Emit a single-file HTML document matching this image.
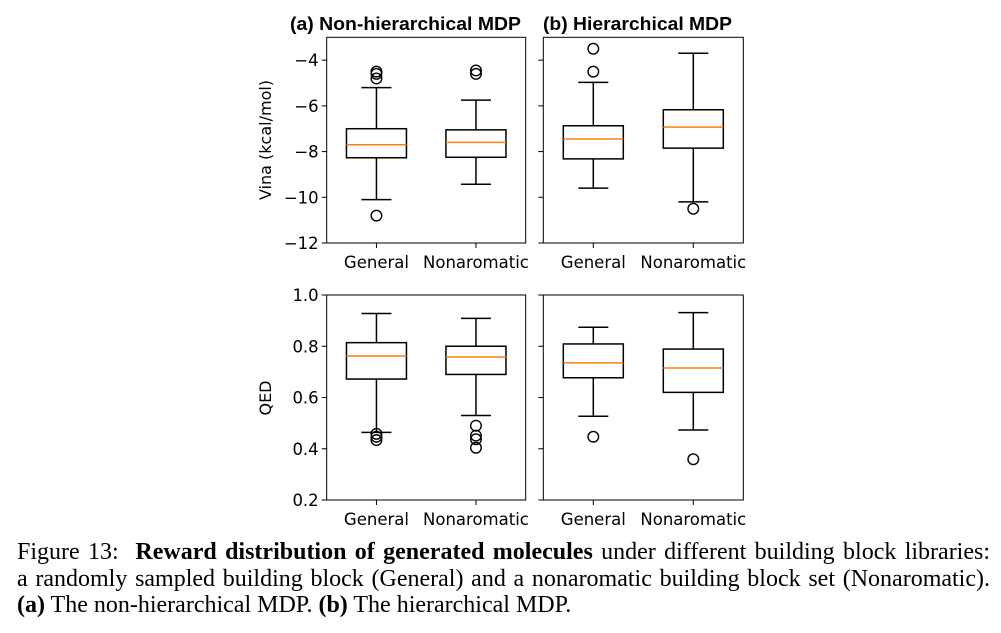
<!DOCTYPE html>
<html><head><meta charset="utf-8">
<style>
body{margin:0;background:#fff;width:1001px;height:633px;overflow:hidden;position:relative}
svg{position:absolute;left:0;top:0}
.cap{position:absolute;left:17px;width:973px;font-family:"Liberation Serif",serif;font-size:24px;line-height:27px;color:#000;white-space:nowrap}
.j{text-align:justify;text-align-last:justify}
</style></head><body>
<svg id="fig" width="1001" height="633" font-family="DejaVu Sans, sans-serif"></svg>
<div class="cap j" style="top:539px">Figure 13:&nbsp; <b>Reward distribution of generated molecules</b> under different building block libraries:</div>
<div class="cap j" style="top:566px">a randomly sampled building block (General) and a nonaromatic building block set (Nonaromatic).</div>
<div class="cap" style="top:592px"><b>(a)</b> The non-hierarchical MDP. <b>(b)</b> The hierarchical MDP.</div>
<script>
const categories = ["General","Nonaromatic"];
// [whiskerLow, Q1, median, Q3, whiskerHigh]
const vinaA = [[-10.1,-8.27,-7.7,-7.0,-5.2],[-9.43,-8.25,-7.6,-7.05,-5.75]];
const vinaAFliers = [[-4.5,-4.6,-4.8,-10.8],[-4.45,-4.6]];
const vinaB = [[-9.6,-8.32,-7.45,-6.87,-4.97],[-10.2,-7.85,-6.93,-6.17,-3.7]];
const vinaBFliers = [[-3.5,-4.5],[-10.5]];
const qedA = [[0.464,0.672,0.762,0.814,0.928],[0.530,0.690,0.758,0.800,0.909]];
const qedAFliers = [[0.458,0.447,0.434],[0.490,0.451,0.437,0.404]];
const qedB = [[0.527,0.677,0.735,0.809,0.874],[0.473,0.620,0.715,0.789,0.931]];
const qedBFliers = [[0.447],[0.359]];
const vinaTicks = [-4,-6,-8,-10,-12];
const qedTicks = [1.0,0.8,0.6,0.4,0.2];

const NS="http://www.w3.org/2000/svg";
const svg=document.getElementById('fig');
function mk(tag,attrs,parent,name){const e=document.createElementNS(NS,tag);for(const k in attrs)e.setAttribute(k,attrs[k]);


(parent||svg).appendChild(e);return e;}

function panel(x0,x1,y0,y1,vmin,vmax,stats,fliers,ticks,showLabels,fmt,pname){
  const g=mk('g',{},svg,pname);
  const ys=v=>y1-(v-vmin)/(vmax-vmin)*(y1-y0);
  const w=x1-x0;
  const xs=i=>x0+w*(0.25+0.5*i);
  const bw=60;
  ticks.forEach(t=>{
    const y=ys(t);
    mk('line',{x1:x0-5,x2:x0,y1:y,y2:y,stroke:'#000','stroke-width':1},g,'y-tick');
    if(showLabels){const tx=mk('text',{x:x0-8,y:y+6,'text-anchor':'end','font-size':16.5},g,'y-tick-label');tx.textContent=fmt(t);}
  });
  categories.forEach((c,i)=>{
    const x=xs(i);const s=stats[i];
    mk('line',{x1:x,x2:x,y1:y1,y2:y1+5,stroke:'#000','stroke-width':1},g,'x-tick');
    const tx=mk('text',{x:x,y:y1+25,'text-anchor':'middle','font-size':16.5},g,'x-tick-label');tx.textContent=c;
    mk('line',{x1:x,x2:x,y1:ys(s[0]),y2:ys(s[1]),stroke:'#000','stroke-width':1.5},g,'whisker-low');
    mk('line',{x1:x,x2:x,y1:ys(s[3]),y2:ys(s[4]),stroke:'#000','stroke-width':1.5},g,'whisker-high');
    mk('line',{x1:x-bw/4,x2:x+bw/4,y1:ys(s[0]),y2:ys(s[0]),stroke:'#000','stroke-width':1.5},g,'cap-low');
    mk('line',{x1:x-bw/4,x2:x+bw/4,y1:ys(s[4]),y2:ys(s[4]),stroke:'#000','stroke-width':1.5},g,'cap-high');
    mk('rect',{x:x-bw/2,y:ys(s[3]),width:bw,height:ys(s[1])-ys(s[3]),fill:'none',stroke:'#000','stroke-width':1.5},g,'box-'+c.toLowerCase());
    mk('line',{x1:x-bw/2,x2:x+bw/2,y1:ys(s[2]),y2:ys(s[2]),stroke:'#ff7f0e','stroke-width':1.5},g,'median-line');
    fliers[i].forEach(f=>mk('circle',{cx:x,cy:ys(f),r:5.3,fill:'none',stroke:'#000','stroke-width':1.4},g,'outlier'));
  });
  mk('rect',{x:x0,y:y0,width:w,height:y1-y0,fill:'none',stroke:'#000','stroke-width':1},g,'axes-frame');
}
const f0=t=>String(t).replace('-','\u2212');
const f1=t=>t.toFixed(1);
panel(326.7,525.7,37.3,243,-12,-3,vinaA,vinaAFliers,vinaTicks,true,f0,'vina-nonhier-panel');
panel(543.3,743.3,37.3,243,-12,-3,vinaB,vinaBFliers,vinaTicks,false,f0,'vina-hier-panel');
panel(326.7,525.7,295,500,0.2,1.0,qedA,qedAFliers,qedTicks,true,f1,'qed-nonhier-panel');
panel(543.3,743.3,295,500,0.2,1.0,qedB,qedBFliers,qedTicks,false,f1,'qed-hier-panel');
let t=mk('text',{x:290,y:30,'font-size':18,'font-weight':'bold','font-family':'Liberation Sans, sans-serif',textLength:231,lengthAdjust:'spacingAndGlyphs'},svg,'title-a');t.textContent='(a) Non-hierarchical MDP';
t=mk('text',{x:543,y:30,'font-size':18,'font-weight':'bold','font-family':'Liberation Sans, sans-serif',textLength:189,lengthAdjust:'spacingAndGlyphs'},svg,'title-b');t.textContent='(b) Hierarchical MDP';
t=mk('text',{x:0,y:0,'text-anchor':'middle','font-size':16,transform:'translate(271,140) rotate(-90)'},svg,'y-axis-title-vina');t.textContent='Vina (kcal/mol)';
t=mk('text',{x:0,y:0,'text-anchor':'middle','font-size':16,transform:'translate(271,398) rotate(-90)'},svg,'y-axis-title-qed');t.textContent='QED';
</script>
</body></html>
